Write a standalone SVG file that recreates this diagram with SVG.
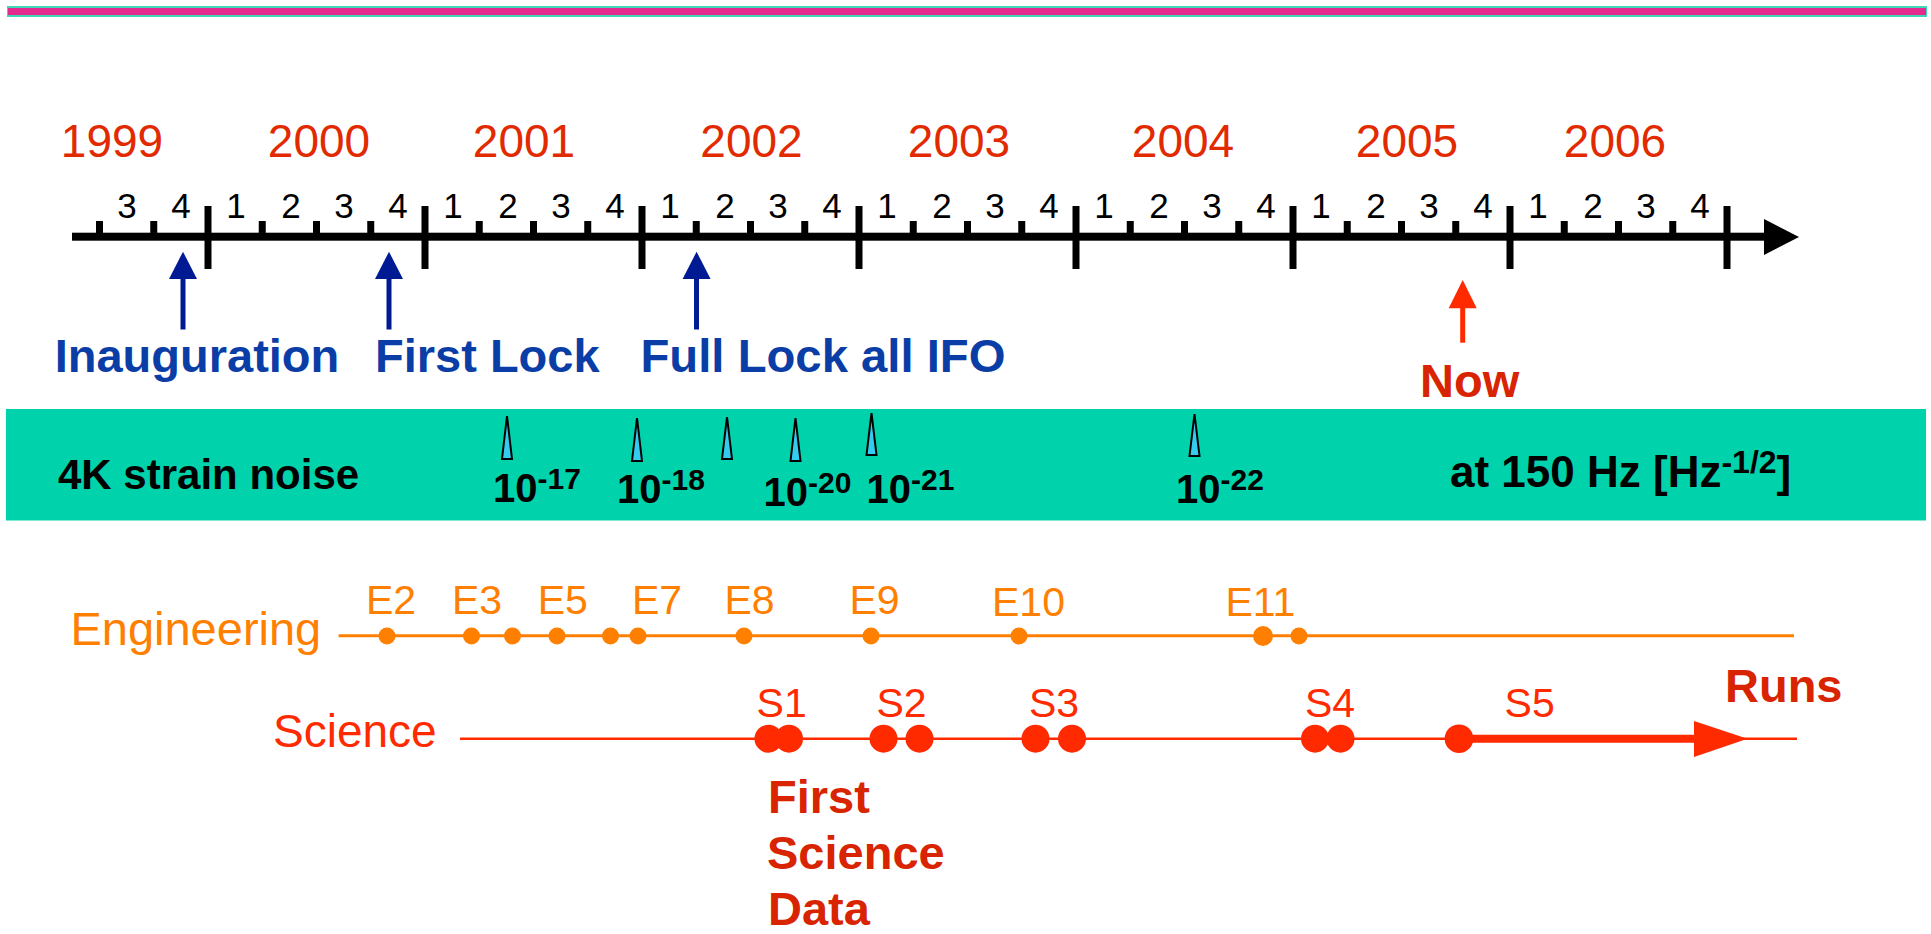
<svg xmlns="http://www.w3.org/2000/svg" width="1931" height="934" viewBox="0 0 1931 934">
<style>
  text { font-family: "Liberation Sans", Arial, Helvetica, sans-serif; }
  .year { font-size: 46px; fill: #e22a00; text-anchor: middle; }
  .q { font-size: 35px; fill: #000; text-anchor: middle; }
  .blue { font-size: 47px; font-weight: bold; fill: #0a3ea6; }
  .red { font-size: 47px; font-weight: bold; fill: #d82400; }
  .band { font-size: 42px; font-weight: bold; fill: #000; }
  .exp { font-size: 40px; font-weight: bold; fill: #000; }
  .eng { font-size: 41px; fill: #ff8000; }
  .sci { font-size: 41px; fill: #ff2a00; }
  .rowlbl { font-size: 47px; }
  .tk { fill: #000; }
  .spike { fill: #33ccee; stroke: #000; stroke-width: 2; stroke-linejoin: miter; }
  .edot { fill: #ff8000; }
  .sdot { fill: #ff2a00; }
</style>

<g id="top-rule">
  <rect x="7" y="6" width="1920" height="11" fill="#3fd8b6"/>
  <rect x="8" y="8" width="1918" height="7" fill="#e42a8e"/>
</g>

<g id="timeline">
  <rect x="72" y="232.7" width="1700" height="8" class="tk"/>
  <polygon points="1764,219 1799,237 1764,255" class="tk"/>
  <g id="year-ticks">
    <rect x="204.5" y="206" width="7" height="63" class="tk"/>
    <rect x="421.5" y="206" width="7" height="63" class="tk"/>
    <rect x="638.5" y="206" width="7" height="63" class="tk"/>
    <rect x="855.5" y="206" width="7" height="63" class="tk"/>
    <rect x="1072.5" y="206" width="7" height="63" class="tk"/>
    <rect x="1289.5" y="206" width="7" height="63" class="tk"/>
    <rect x="1506.5" y="206" width="7" height="63" class="tk"/>
    <rect x="1723.5" y="206" width="7" height="63" class="tk"/>
  </g>
  <g id="quarter-ticks">
    <rect x="96" y="221" width="7" height="14" class="tk"/>
    <rect x="150.25" y="221" width="7" height="14" class="tk"/>
    <rect x="258.75" y="221" width="7" height="14" class="tk"/>
    <rect x="313" y="221" width="7" height="14" class="tk"/>
    <rect x="367.25" y="221" width="7" height="14" class="tk"/>
    <rect x="475.75" y="221" width="7" height="14" class="tk"/>
    <rect x="530" y="221" width="7" height="14" class="tk"/>
    <rect x="584.25" y="221" width="7" height="14" class="tk"/>
    <rect x="692.75" y="221" width="7" height="14" class="tk"/>
    <rect x="747" y="221" width="7" height="14" class="tk"/>
    <rect x="801.25" y="221" width="7" height="14" class="tk"/>
    <rect x="909.75" y="221" width="7" height="14" class="tk"/>
    <rect x="964" y="221" width="7" height="14" class="tk"/>
    <rect x="1018.25" y="221" width="7" height="14" class="tk"/>
    <rect x="1126.75" y="221" width="7" height="14" class="tk"/>
    <rect x="1181" y="221" width="7" height="14" class="tk"/>
    <rect x="1235.25" y="221" width="7" height="14" class="tk"/>
    <rect x="1343.75" y="221" width="7" height="14" class="tk"/>
    <rect x="1398" y="221" width="7" height="14" class="tk"/>
    <rect x="1452.25" y="221" width="7" height="14" class="tk"/>
    <rect x="1560.75" y="221" width="7" height="14" class="tk"/>
    <rect x="1615" y="221" width="7" height="14" class="tk"/>
    <rect x="1669.25" y="221" width="7" height="14" class="tk"/>
  </g>
  <g id="years">
    <text class="year" x="112" y="157">1999</text>
    <text class="year" x="319" y="157">2000</text>
    <text class="year" x="524" y="157">2001</text>
    <text class="year" x="751.5" y="157">2002</text>
    <text class="year" x="959" y="157">2003</text>
    <text class="year" x="1183" y="157">2004</text>
    <text class="year" x="1407" y="157">2005</text>
    <text class="year" x="1615" y="157">2006</text>
  </g>
  <g id="quarters">
    <text class="q" x="127" y="218">3</text>
    <text class="q" x="181" y="218">4</text>
    <text class="q" x="236" y="218">1</text>
    <text class="q" x="291" y="218">2</text>
    <text class="q" x="344" y="218">3</text>
    <text class="q" x="398" y="218">4</text>
    <text class="q" x="453" y="218">1</text>
    <text class="q" x="508" y="218">2</text>
    <text class="q" x="561" y="218">3</text>
    <text class="q" x="615" y="218">4</text>
    <text class="q" x="670" y="218">1</text>
    <text class="q" x="725" y="218">2</text>
    <text class="q" x="778" y="218">3</text>
    <text class="q" x="832" y="218">4</text>
    <text class="q" x="887" y="218">1</text>
    <text class="q" x="942" y="218">2</text>
    <text class="q" x="995" y="218">3</text>
    <text class="q" x="1049" y="218">4</text>
    <text class="q" x="1104" y="218">1</text>
    <text class="q" x="1159" y="218">2</text>
    <text class="q" x="1212" y="218">3</text>
    <text class="q" x="1266" y="218">4</text>
    <text class="q" x="1321" y="218">1</text>
    <text class="q" x="1376" y="218">2</text>
    <text class="q" x="1429" y="218">3</text>
    <text class="q" x="1483" y="218">4</text>
    <text class="q" x="1538" y="218">1</text>
    <text class="q" x="1593" y="218">2</text>
    <text class="q" x="1646" y="218">3</text>
    <text class="q" x="1700" y="218">4</text>
  </g>
</g>

<g id="milestone-arrows">
  <g id="arrow-inauguration">
    <rect x="180.5" y="276" width="5" height="53.5" fill="#001a94"/>
    <polygon points="183,251.7 197,279 169,279" fill="#001a94"/>
  </g>
  <g id="arrow-first-lock">
    <rect x="386.5" y="276" width="5" height="53.5" fill="#001a94"/>
    <polygon points="389,251.7 403,279 375,279" fill="#001a94"/>
  </g>
  <g id="arrow-full-lock">
    <rect x="694" y="276" width="5" height="53.5" fill="#001a94"/>
    <polygon points="696.6,251.7 710.6,279 682.6,279" fill="#001a94"/>
  </g>
  <g id="arrow-now">
    <rect x="1460.2" y="305" width="5" height="37.7" fill="#ff2a00"/>
    <polygon points="1462.7,280 1476.7,308.3 1448.7,308.3" fill="#ff2a00"/>
  </g>
</g>

<g id="milestone-labels">
  <text id="lbl-inauguration" class="blue" x="54.7" y="371.7">Inauguration</text>
  <text id="lbl-first-lock" class="blue" x="375" y="371.7">First Lock</text>
  <text id="lbl-full-lock" class="blue" x="640.5" y="371.7" textLength="365" lengthAdjust="spacingAndGlyphs">Full Lock all IFO</text>
  <text id="lbl-now" class="red" x="1420" y="397.3">Now</text>
</g>

<g id="strain-band">
  <rect x="6" y="409" width="1920" height="111.5" fill="#00d2ab"/>
  <text class="band" x="58" y="489">4K strain noise</text>
  <g id="spikes">
    <polygon class="spike" points="507,416 512,459 502,459"/>
    <polygon class="spike" points="637,418 642,461 632,461"/>
    <polygon class="spike" points="727,417 732,459 722,459"/>
    <polygon class="spike" points="795.5,418 800.5,461 790.5,461"/>
    <polygon class="spike" points="871.5,413 876.5,455 866.5,455"/>
    <polygon class="spike" points="1194.5,414 1199.5,456 1189.5,456"/>
  </g>
  <text class="exp" x="493" y="502">10<tspan dy="-13" font-size="30">-17</tspan></text>
  <text class="exp" x="617" y="503">10<tspan dy="-13" font-size="30">-18</tspan></text>
  <text class="exp" x="763.6" y="506">10<tspan dy="-13" font-size="30">-20</tspan></text>
  <text class="exp" x="866.5" y="503">10<tspan dy="-13" font-size="30">-21</tspan></text>
  <text class="exp" x="1176" y="503">10<tspan dy="-13" font-size="30">-22</tspan></text>
  <text class="band" x="1450" y="487" style="font-size:44px">at 150 Hz [Hz<tspan dy="-14" style="font-size:32px">-1/2</tspan><tspan dy="14">]</tspan></text>
</g>

<g id="engineering">
  <text class="eng rowlbl" x="70.4" y="645">Engineering</text>
  <line x1="338.6" y1="635.7" x2="1794" y2="635.7" stroke="#ff8000" stroke-width="3"/>
  <circle class="edot" cx="387" cy="636" r="8.5"/>
  <circle class="edot" cx="471.5" cy="636" r="8.5"/>
  <circle class="edot" cx="512.5" cy="636" r="8.5"/>
  <circle class="edot" cx="557" cy="636" r="8.5"/>
  <circle class="edot" cx="610.5" cy="636" r="8.5"/>
  <circle class="edot" cx="638" cy="636" r="8.5"/>
  <circle class="edot" cx="744" cy="636" r="8.5"/>
  <circle class="edot" cx="871" cy="636" r="8.5"/>
  <circle class="edot" cx="1019" cy="636" r="8.5"/>
  <circle class="edot" cx="1263" cy="636" r="10"/>
  <circle class="edot" cx="1299" cy="636" r="8.5"/>
  <text class="eng" x="366" y="614">E2</text>
  <text class="eng" x="452" y="614">E3</text>
  <text class="eng" x="537.7" y="614">E5</text>
  <text class="eng" x="632" y="614">E7</text>
  <text class="eng" x="724.4" y="614">E8</text>
  <text class="eng" x="849.4" y="614">E9</text>
  <text class="eng" x="992" y="616">E10</text>
  <text class="eng" x="1225.4" y="616">E11</text>
</g>

<g id="science">
  <text class="sci" x="273" y="747.3" style="font-size:46px">Science</text>
  <line x1="460" y1="738.7" x2="1797" y2="738.7" stroke="#ff2a00" stroke-width="2.5"/>
  <line x1="1459" y1="738.7" x2="1700" y2="738.7" stroke="#ff2a00" stroke-width="8"/>
  <polygon points="1694,721 1747.5,738.7 1694,757" fill="#ff2a00"/>
  <circle class="sdot" cx="768.5" cy="738.7" r="14"/>
  <circle class="sdot" cx="789" cy="738.7" r="14"/>
  <circle class="sdot" cx="883.5" cy="738.7" r="14"/>
  <circle class="sdot" cx="919.5" cy="738.7" r="14"/>
  <circle class="sdot" cx="1035.5" cy="738.7" r="14"/>
  <circle class="sdot" cx="1072" cy="738.7" r="14"/>
  <circle class="sdot" cx="1315" cy="738.7" r="14"/>
  <circle class="sdot" cx="1340.5" cy="738.7" r="14"/>
  <circle class="sdot" cx="1459" cy="738.7" r="14.3"/>
  <text class="sci" x="756.6" y="716.5">S1</text>
  <text class="sci" x="876.5" y="716.5">S2</text>
  <text class="sci" x="1029" y="716.5">S3</text>
  <text class="sci" x="1305" y="717.3">S4</text>
  <text class="sci" x="1504.6" y="717.3">S5</text>
  <text class="red" x="1725" y="701.7">Runs</text>
  <text class="red" x="768" y="813">First</text>
  <text class="red" x="767" y="869">Science</text>
  <text class="red" x="768" y="925">Data</text>
</g>
</svg>
